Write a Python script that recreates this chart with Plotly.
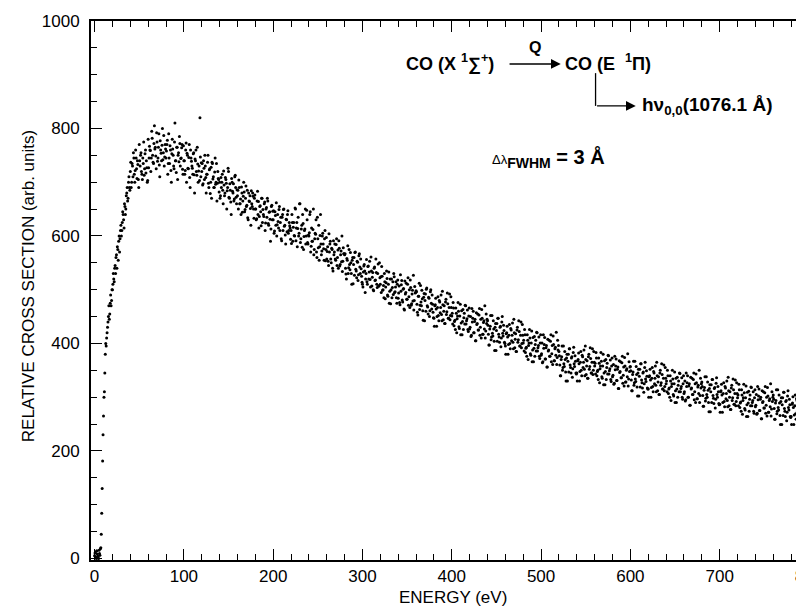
import plotly.graph_objects as go

# relative cross section (arb. units), readings on a 1 eV grid starting at 0 eV
cross_section = [
    # 0-19 eV
    5, 12, 0, 8, 3, 15, 6, 20, 84, 181, 265, 310, 380, 395, 420, 440, 470, 455, 490, 480,
    # 20-39
    500, 530, 515, 545, 560, 540, 575, 590, 570, 610, 600, 625, 640, 615, 655, 650, 680, 665, 700, 690,
    # 40-59
    720, 690, 735, 710, 745, 700, 760, 725, 740, 705, 770, 730, 755, 715, 745, 775, 725, 760, 740, 700,
    # 60-79
    780, 745, 760, 720, 795, 750, 735, 805, 765, 725, 775, 745, 790, 710, 760, 740, 800, 755, 730, 770,
    # 80-99
    745, 770, 715, 790, 735, 760, 700, 780, 750, 725, 810, 740, 765, 705, 755, 785, 730, 745, 770, 715,
    # 100-119
    740, 715, 760, 700, 750, 725, 770, 690, 745, 730, 715, 755, 680, 740, 720, 765, 700, 730, 820, 710,
    # 120-139
    720, 695, 740, 705, 730, 680, 715, 750, 690, 725, 700, 670, 735, 710, 690, 745, 700, 665, 720, 705,
    # 140-159
    700, 675, 690, 715, 660, 695, 680, 705, 650, 690, 720, 670, 685, 640, 700, 680, 665, 710, 690, 660,
    # 160-179
    675, 650, 690, 660, 640, 680, 665, 700, 645, 670, 655, 685, 630, 665, 675, 620, 660, 680, 650, 670,
    # 180-199
    650, 630, 665, 640, 615, 655, 645, 670, 625, 640, 660, 610, 650, 635, 665, 620, 645, 590, 655, 630,
    # 200-219
    630, 605, 645, 620, 600, 640, 615, 655, 625, 595, 635, 610, 650, 620, 585, 630, 640, 605, 625, 615,
    # 220-239
    610, 640, 590, 625, 600, 650, 615, 580, 635, 605, 660, 595, 620, 640, 575, 610, 650, 600, 630, 585,
    # 240-259
    600, 640, 570, 615, 590, 650, 575, 605, 630, 560, 595, 620, 580, 640, 565, 600, 585, 555, 610, 575,
    # 260-279
    557, 580, 545, 570, 590, 550, 575, 535, 565, 585, 555, 595, 560, 540, 577, 547, 572, 600, 553, 567,
    # 280-299
    565, 540, 520, 555, 530, 575, 537, 550, 510, 560, 547, 527, 570, 535, 553, 517, 563, 542, 557, 525,
    # 300-319
    510, 533, 547, 495, 530, 515, 543, 520, 553, 505, 535, 523, 500, 540, 517, 557, 510, 530, 507, 550,
    # 320-339
    510, 495, 525, 500, 485, 515, 505, 535, 490, 510, 475, 520, 500, 485, 515, 530, 495, 505, 485, 510,
    # 340-359
    484, 507, 472, 497, 517, 477, 502, 462, 492, 512, 482, 522, 487, 467, 504, 474, 499, 527, 480, 494,
    # 360-379
    498, 473, 453, 488, 463, 508, 470, 483, 443, 493, 480, 460, 503, 468, 486, 450, 496, 475, 490, 458,
    # 380-399
    447, 470, 484, 432, 467, 452, 480, 457, 490, 442, 472, 460, 437, 477, 454, 494, 447, 467, 444, 487,
    # 400-419
    451, 436, 466, 441, 426, 456, 446, 476, 431, 451, 416, 461, 441, 426, 456, 471, 436, 446, 426, 451,
    # 420-439
    427, 450, 415, 440, 460, 420, 445, 405, 435, 455, 425, 465, 430, 410, 447, 417, 442, 470, 423, 437,
    # 440-459
    442, 417, 397, 432, 407, 452, 414, 427, 387, 437, 424, 404, 447, 412, 430, 394, 440, 419, 434, 402,
    # 460-479
    395, 418, 432, 380, 415, 400, 428, 405, 438, 390, 420, 408, 385, 425, 402, 442, 395, 415, 392, 435,
    # 480-499
    401, 386, 416, 391, 376, 406, 396, 426, 381, 401, 366, 411, 391, 376, 406, 421, 386, 396, 376, 401,
    # 500-519
    378, 401, 366, 391, 411, 371, 396, 356, 386, 406, 376, 416, 381, 361, 398, 368, 393, 421, 374, 388,
    # 520-539
    385, 360, 340, 375, 350, 395, 357, 370, 330, 380, 367, 347, 390, 355, 373, 337, 383, 362, 377, 345,
    # 540-559
    345, 368, 382, 330, 365, 350, 378, 355, 388, 340, 370, 358, 335, 375, 352, 392, 345, 365, 342, 385,
    # 560-579
    358, 343, 373, 348, 333, 363, 353, 383, 338, 358, 323, 368, 348, 333, 363, 378, 343, 353, 333, 358,
    # 580-599
    338, 361, 326, 351, 371, 331, 356, 316, 346, 366, 336, 376, 341, 321, 358, 328, 353, 381, 334, 348,
    # 600-619
    357, 332, 312, 347, 322, 367, 329, 342, 302, 352, 339, 319, 362, 327, 345, 309, 355, 334, 349, 317,
    # 620-639
    315, 338, 352, 300, 335, 320, 348, 325, 358, 310, 340, 328, 305, 345, 322, 362, 315, 335, 312, 355,
    # 640-659
    325, 310, 340, 315, 300, 330, 320, 350, 305, 325, 290, 335, 315, 300, 330, 345, 310, 320, 300, 325,
    # 660-679
    307, 330, 295, 320, 340, 300, 325, 285, 315, 335, 305, 345, 310, 290, 327, 297, 322, 350, 303, 317,
    # 680-699
    328, 303, 283, 318, 293, 338, 300, 313, 273, 323, 310, 290, 333, 298, 316, 280, 326, 305, 320, 288,
    # 700-719
    287, 310, 324, 272, 307, 292, 320, 297, 330, 282, 312, 300, 277, 317, 294, 334, 287, 307, 284, 327,
    # 720-739
    299, 284, 314, 289, 274, 304, 294, 324, 279, 299, 264, 309, 289, 274, 304, 319, 284, 294, 274, 299,
    # 740-759
    282, 305, 270, 295, 315, 275, 300, 260, 290, 310, 280, 320, 285, 265, 302, 272, 297, 325, 278, 292,
    # 760-779
    304, 279, 259, 294, 269, 314, 276, 289, 249, 299, 286, 266, 309, 274, 292, 256, 302, 281, 296, 264,
    # 780-799
    264, 287, 301, 249, 284, 269, 297, 274, 307, 259, 289, 277, 254, 294, 271, 311, 264, 284, 261, 304,
    # 800-815
    277, 262, 292, 267, 252, 282, 272, 302, 257, 277, 242, 287, 267, 252, 282, 297,
]

# readings on the interleaved half-eV channels (0.5 eV, 1.5 eV, ...)
cross_section_half = [
    # 0.5-19.5 eV
    10, 2, 14, 4, 0, 9, 18, 45, 130, 230, 300, 345, 400, 410, 430, 450, 445, 475, 470, 500,
    # 20.5-39.5
    510, 520, 540, 530, 565, 580, 555, 600, 595, 620, 610, 645, 630, 660, 640, 675, 690, 670, 710, 685,
    # 40.5-59.5
    737, 700, 730, 755, 715, 722, 745, 707, 733, 690, 740, 750, 720, 705, 735, 713, 753, 717, 727, 703,
    # 60.5-79.5
    727, 767, 759, 745, 782, 737, 772, 762, 749, 792, 739, 765, 732, 777, 754, 769, 742, 787, 747, 762,
    # 80.5-99.5
    758, 778, 735, 745, 768, 722, 753, 762, 730, 775, 740, 718, 765, 750, 738, 772, 744, 764, 724, 768,
    # 100.5-119.5
    740, 722, 773, 754, 726, 746, 709, 760, 739, 726, 753, 714, 743, 760, 713, 734, 721, 703, 747, 736,
    # 120.5-139.5
    735, 697, 726, 750, 709, 715, 737, 698, 723, 679, 728, 737, 706, 690, 719, 696, 735, 698, 707, 682,
    # 140.5-159.5
    670, 709, 700, 685, 721, 675, 709, 698, 684, 726, 672, 697, 663, 707, 683, 697, 669, 713, 672, 686,
    # 160.5-179.5
    685, 704, 660, 669, 691, 644, 674, 682, 649, 693, 657, 634, 680, 664, 651, 684, 655, 674, 633, 676,
    # 180.5-199.5
    650, 632, 683, 664, 636, 656, 619, 670, 649, 636, 663, 624, 653, 670, 623, 644, 631, 613, 657, 646,
    # 200.5-219.5
    647, 609, 638, 662, 621, 627, 649, 610, 635, 591, 640, 649, 618, 602, 631, 608, 647, 610, 619, 594,
    # 220.5-239.5
    586, 625, 616, 601, 652, 591, 625, 614, 600, 660, 588, 613, 579, 623, 599, 613, 585, 648, 588, 602,
    # 240.5-259.5
    606, 645, 581, 590, 612, 565, 595, 603, 570, 635, 578, 555, 601, 585, 572, 605, 576, 595, 554, 597,
    # 260.5-279.5
    571, 553, 604, 585, 557, 577, 540, 591, 570, 557, 584, 545, 574, 591, 544, 565, 552, 534, 578, 567,
    # 280.5-299.5
    567, 529, 558, 582, 541, 547, 569, 530, 555, 511, 560, 569, 538, 522, 551, 528, 567, 530, 539, 514,
    # 300.5-319.5
    505, 544, 535, 520, 556, 510, 544, 533, 519, 561, 507, 532, 498, 542, 518, 532, 504, 548, 507, 522,
    # 320.5-339.5
    524, 543, 499, 508, 530, 483, 513, 521, 488, 533, 497, 474, 520, 504, 491, 524, 496, 515, 475, 518,
    # 340.5-359.5
    494, 476, 528, 509, 481, 501, 464, 516, 495, 482, 510, 471, 500, 518, 471, 492, 479, 462, 506, 495,
    # 360.5-379.5
    496, 458, 488, 512, 471, 477, 499, 461, 486, 442, 492, 501, 470, 455, 484, 461, 500, 464, 473, 448,
    # 380.5-399.5
    432, 472, 464, 450, 487, 442, 477, 467, 454, 497, 444, 470, 437, 482, 459, 474, 447, 492, 452, 467,
    # 400.5-419.5
    456, 476, 433, 443, 466, 420, 451, 460, 428, 473, 438, 416, 463, 448, 436, 470, 442, 462, 422, 466,
    # 420.5-439.5
    430, 413, 465, 447, 420, 441, 405, 457, 437, 425, 453, 415, 445, 463, 417, 439, 427, 410, 455, 445,
    # 440.5-459.5
    434, 397, 427, 452, 412, 419, 442, 404, 430, 387, 437, 447, 417, 402, 432, 410, 450, 414, 424, 400,
    # 460.5-479.5
    380, 420, 412, 398, 435, 390, 425, 415, 402, 445, 392, 418, 385, 430, 407, 422, 395, 440, 400, 415,
    # 480.5-499.5
    406, 426, 383, 393, 416, 370, 401, 410, 378, 423, 388, 366, 413, 398, 386, 420, 392, 412, 372, 416,
    # 500.5-519.5
    381, 364, 416, 398, 371, 392, 356, 408, 388, 376, 404, 366, 396, 414, 368, 390, 378, 361, 406, 396,
    # 520.5-539.5
    377, 340, 370, 395, 355, 362, 385, 347, 373, 330, 380, 390, 360, 345, 375, 353, 393, 357, 367, 343,
    # 540.5-559.5
    330, 370, 362, 348, 385, 340, 375, 365, 352, 395, 342, 368, 335, 380, 357, 372, 345, 390, 350, 365,
    # 560.5-579.5
    363, 383, 340, 350, 373, 327, 358, 367, 335, 380, 345, 323, 370, 355, 343, 377, 349, 369, 329, 373,
    # 580.5-599.5
    341, 324, 376, 358, 331, 352, 316, 368, 348, 336, 364, 326, 356, 374, 328, 350, 338, 321, 366, 356,
    # 600.5-619.5
    349, 312, 342, 367, 327, 334, 357, 319, 345, 302, 352, 362, 332, 317, 347, 325, 365, 329, 339, 315,
    # 620.5-639.5
    300, 340, 332, 318, 355, 310, 345, 335, 322, 365, 312, 338, 305, 350, 327, 342, 315, 360, 320, 335,
    # 640.5-659.5
    330, 350, 307, 317, 340, 294, 325, 334, 302, 347, 312, 290, 337, 322, 310, 344, 316, 336, 296, 340,
    # 660.5-679.5
    310, 293, 345, 327, 300, 321, 285, 337, 317, 305, 333, 295, 325, 343, 297, 319, 307, 290, 335, 325,
    # 680.5-699.5
    320, 283, 313, 338, 298, 305, 328, 290, 316, 273, 323, 333, 303, 288, 318, 296, 336, 300, 310, 286,
    # 700.5-719.5
    272, 312, 304, 290, 327, 282, 317, 307, 294, 337, 284, 310, 277, 322, 299, 314, 287, 332, 292, 307,
    # 720.5-739.5
    304, 324, 281, 291, 314, 268, 299, 308, 276, 321, 286, 264, 311, 296, 284, 318, 290, 310, 270, 314,
    # 740.5-759.5
    285, 268, 320, 302, 275, 296, 260, 312, 292, 280, 308, 270, 300, 318, 272, 294, 282, 265, 310, 300,
    # 760.5-779.5
    296, 259, 289, 314, 274, 281, 304, 266, 292, 249, 299, 309, 279, 264, 294, 272, 312, 276, 286, 262,
    # 780.5-799.5
    249, 289, 281, 267, 304, 259, 294, 284, 271, 314, 261, 287, 254, 299, 276, 291, 264, 309, 269, 284,
    # 800.5-815.5
    282, 302, 259, 269, 292, 246, 277, 286, 254, 299, 264, 242, 289, 274, 262, 296,
]

energy = list(range(len(cross_section)))
energy_half = [e + 0.5 for e in range(len(cross_section_half))]

x_ticks = [0, 100, 200, 300, 400, 500, 600, 700, 800]
y_ticks = [0, 200, 400, 600, 800, 1000]

FONT = "Liberation Sans, Arial, Helvetica, sans-serif"
NB = "\u00a0"

fig = go.Figure()
for xs, ys in [(energy, cross_section), (energy_half, cross_section_half)]:
    fig.add_trace(go.Scatter(
        x=xs, y=ys, mode="markers",
        marker=dict(color="black", size=3, line=dict(width=0)),
        hoverinfo="skip", cliponaxis=True,
    ))

axis_style = dict(
    showline=True, linecolor="black", linewidth=2, mirror="allticks",
    ticks="inside", ticklen=11, tickwidth=1.2, tickcolor="black",
    showgrid=False, zeroline=False, automargin=False,
    tickfont=dict(family=FONT, size=17, color="black"),
)

fig.update_layout(
    width=804, height=606,
    margin=dict(l=83, r=3, t=13, b=54),
    paper_bgcolor="white", plot_bgcolor="white",
    showlegend=False,
    font=dict(family=FONT, size=17, color="black"),
    xaxis=dict(
        range=[-4, 800], tickvals=x_ticks, ticklabeloverflow="allow",
        minor=dict(ticks="inside", ticklen=6, dtick=20, tick0=0, tickcolor="black"),
        **axis_style,
    ),
    yaxis=dict(
        range=[-3, 1000], tickvals=y_ticks, ticklabelstandoff=6,
        ticklabeloverflow="allow",
        minor=dict(ticks="inside", ticklen=6, dtick=50, tick0=0, tickcolor="black"),
        **axis_style,
    ),
)

# axis titles
fig.add_annotation(x=0.504, y=-0.0705, xref="paper", yref="paper", xanchor="center",
                   yanchor="middle", showarrow=False,
                   text="ENERGY (eV)", font=dict(family=FONT, size=17))
fig.add_annotation(x=-0.0877, y=0.508, xref="paper", yref="paper", xanchor="center",
                   yanchor="middle", showarrow=False, textangle=-90,
                   text="RELATIVE CROSS SECTION (arb. units)",
                   font=dict(family=FONT, size=17))

label_font = dict(family=FONT, size=18, color="black")
arrow = dict(xref="x", yref="y", axref="x", ayref="y", text="", showarrow=True,
             arrowhead=2, arrowsize=1.5, arrowwidth=1.3, arrowcolor="black")

# reaction scheme
fig.add_annotation(x=347, y=922, xref="x", yref="y", xanchor="left", showarrow=False,
                   text=f"<b>CO{NB}(X{NB}<sup>1</sup>∑<sup>+</sup>)</b>", font=label_font)
fig.add_annotation(x=493, y=951, xref="x", yref="y", showarrow=False,
                   text="<b>Q</b>", font=dict(family=FONT, size=16))
fig.add_annotation(x=522, y=920, ax=463, ay=920, **arrow)
fig.add_annotation(x=524, y=922, xref="x", yref="y", xanchor="left", showarrow=False,
                   text=f"<b>CO{NB}(E{NB}{NB}<sup>1</sup>Π)</b>", font=label_font)
fig.add_shape(type="line", x0=561, x1=561, y0=903, y1=842, xref="x", yref="y",
              line=dict(color="black", width=1.3))
fig.add_annotation(x=606, y=842, ax=561, ay=842, **arrow)
fig.add_annotation(x=611, y=842, xref="x", yref="y", xanchor="left", showarrow=False,
                   text="<b>hν<sub>0,0</sub>(1076.1 Å)</b>", font=dict(family=FONT, size=19))

# resolution
fig.add_annotation(x=443, y=745, xref="x", yref="y", xanchor="left", showarrow=False,
                   text="<span style='font-size:13px'>Δλ</span><b><sub>FWHM</sub> = 3 Å</b>",
                   font=dict(family=FONT, size=20, color="black"))

fig.write_html("out.html")
